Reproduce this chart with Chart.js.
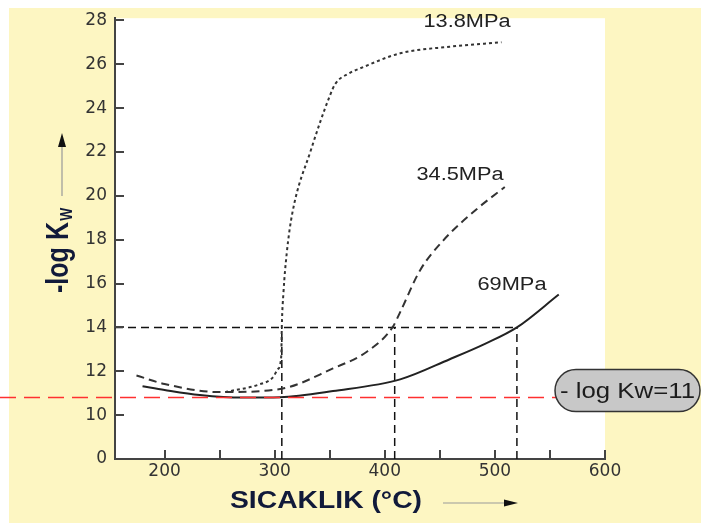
<!DOCTYPE html>
<html>
<head>
<meta charset="utf-8">
<title>-log Kw / Sıcaklık</title>
<script src="https://cdn.jsdelivr.net/npm/chart.js@4.4.1/dist/chart.umd.min.js"></script>
<style>
  html, body { margin: 0; padding: 0; background: #fdf6c2; overflow: hidden; }
  #wrap { width: 701px; height: 523px; }
  canvas { display: block; }
</style>
</head>
<body>
<div id="wrap"><canvas id="kwChart" width="701" height="523"></canvas></div>
<script>
// (sıcaklık °C, -log Kw)
const temps138 = [255, 286, 298, 303, 306, 306.5, 308, 311, 316, 333, 350, 355, 368, 377, 414, 459, 506];
const logKw138 = [11.05, 11.4, 11.7, 12.1, 12.7, 14.05, 15.6, 17.4, 19.2, 22.1, 24.55, 25.1, 25.6, 25.8, 26.5, 26.8, 27.0];

const temps345 = [174.5, 200, 250, 305, 353, 384, 407, 414, 432, 453, 486, 509];
const logKw345 = [11.81, 11.42, 11.05, 11.19, 12.13, 12.9, 14.0, 14.7, 16.6, 17.96, 19.5, 20.4];

const temps69 = [180, 200, 232, 271, 305, 353, 414, 459, 491, 520, 558];
const logKw69 = [11.32, 11.15, 10.92, 10.8, 10.82, 11.1, 11.63, 12.55, 13.25, 14.0, 15.5];

// Kılavuz çizgileri: -log Kw = 14 seviyesinin kesiştiği sıcaklıklar
const guideTemps = [306.5, 409, 520];
const guideLevel = 14;
const refLevel = 10.8; // kırmızı kesikli çizgi (- log Kw=11)

// Eksen işaretleri
const xTicks = [200, 250, 300, 350, 400, 450, 500, 550, 600];
const yTicks = [8, 10, 12, 14, 16, 18, 20, 22, 24, 26, 28]; // 8 -> "0" (kırık eksen)

const YELLOW = '#fdf6c2';
const AXIS = '#444';

const toPoints = (xs, ys) => xs.map((x, i) => ({ x: x, y: ys[i] }));

// Yazıyı verilen genişliğe yatayda esneterek çizer
function stretchText(ctx, text, x, y, font, width, align, color) {
    ctx.save();
    ctx.font = font;
    const w = ctx.measureText(text).width;
    ctx.translate(x, y);
    ctx.scale(width / w, 1);
    ctx.textAlign = align;
    ctx.textBaseline = 'middle';
    ctx.fillStyle = color;
    ctx.fillText(text, 0, 0);
    ctx.restore();
}

const backgroundPlugin = {
    id: 'background',
    beforeDraw(chart) {
        const { ctx, chartArea: a } = chart;
        ctx.save();
        ctx.fillStyle = '#fff';
        ctx.fillRect(0, 0, chart.width, chart.height);
        ctx.fillStyle = YELLOW;
        ctx.fillRect(9, 8, chart.width, chart.height);
        ctx.fillStyle = '#fff';
        ctx.fillRect(a.left, a.top, a.right - a.left, a.bottom - a.top);
        ctx.restore();
    }
};

const decorPlugin = {
    id: 'decor',
    afterDatasetsDraw(chart) {
        const { ctx, chartArea: a, scales: { x, y } } = chart;
        ctx.save();

        // içe doğru tik işaretleri
        ctx.strokeStyle = AXIS;
        ctx.lineWidth = 2;
        ctx.beginPath();
        xTicks.forEach(t => {
            const px = Math.round(x.getPixelForValue(t));
            ctx.moveTo(px, a.bottom);
            ctx.lineTo(px, a.bottom - 9);
        });
        yTicks.slice(1).forEach(t => {
            const py = Math.round(y.getPixelForValue(t));
            ctx.moveTo(a.left, py);
            ctx.lineTo(a.left + 9, py);
        });
        ctx.stroke();

        // kırmızı referans çizgisi
        const ry = y.getPixelForValue(refLevel);
        ctx.strokeStyle = '#ff3030';
        ctx.lineWidth = 1.5;
        ctx.setLineDash([16, 8]);
        ctx.beginPath();
        ctx.moveTo(0, ry);
        ctx.lineTo(560, ry);
        ctx.stroke();
        ctx.setLineDash([]);

        // etiket kutusu
        const pl = 555, pr = 700, pt = ry - 28, pb = ry + 14, r = 21;
        ctx.beginPath();
        ctx.moveTo(pl + r, pt);
        ctx.lineTo(pr - r, pt);
        ctx.arc(pr - r, pt + r, r, -Math.PI / 2, Math.PI / 2);
        ctx.lineTo(pl + r, pb);
        ctx.arc(pl + r, pt + r, r, Math.PI / 2, Math.PI * 1.5);
        ctx.closePath();
        ctx.fillStyle = '#c8c8c8';
        ctx.fill();
        ctx.strokeStyle = '#333';
        ctx.lineWidth = 1.5;
        ctx.stroke();
        stretchText(ctx, '- log Kw=11', 560, pt + r + 1, '22px "Liberation Sans", Arial, sans-serif', 135, 'left', '#1c1c1c');

        // seri etiketleri
        const lf = '18px "Liberation Sans", Arial, sans-serif';
        stretchText(ctx, '13.8MPa', 467, 22, lf, 87, 'center', '#222');
        stretchText(ctx, '34.5MPa', 460, 175, lf, 87, 'center', '#222');
        stretchText(ctx, '69MPa', 512, 285, lf, 69, 'center', '#222');

        // x ekseni başlığı ve oku
        const titleColor = '#111a3a';
        const bf = 'bold 23px "Liberation Sans", Arial, sans-serif';
        stretchText(ctx, 'SICAKLIK (°C)', 326, 502, bf, 192, 'center', titleColor);
        ctx.strokeStyle = '#999';
        ctx.lineWidth = 1.2;
        ctx.beginPath();
        ctx.moveTo(443, 503);
        ctx.lineTo(506, 503);
        ctx.moveTo(62, 196);
        ctx.lineTo(62, 146);
        ctx.stroke();
        ctx.fillStyle = '#111';
        ctx.beginPath();
        ctx.moveTo(518, 503);
        ctx.lineTo(504, 499.5);
        ctx.lineTo(504, 506.5);
        ctx.closePath();
        ctx.moveTo(62, 133);
        ctx.lineTo(58, 147);
        ctx.lineTo(66, 147);
        ctx.closePath();
        ctx.fill();

        // y ekseni başlığı (-log Kw), döndürülmüş
        ctx.save();
        ctx.translate(68, 257.5);
        ctx.rotate(-Math.PI / 2);
        ctx.font = 'bold 22px "Liberation Sans", Arial, sans-serif';
        const main = '-log K';
        const mw = ctx.measureText(main).width;
        const sa = 71 / mw;
        ctx.scale(sa, 1.4);
        ctx.fillStyle = titleColor;
        ctx.textAlign = 'center';
        ctx.textBaseline = 'alphabetic';
        ctx.fillText(main, 0, 0);
        ctx.font = 'bold 12px "Liberation Sans", Arial, sans-serif';
        ctx.textAlign = 'left';
        ctx.fillText('W', mw / 2 + 1, 3);
        ctx.restore();

        ctx.restore();
    }
};

const curveBase = {
    showLine: true,
    pointRadius: 0,
    borderWidth: 2,
    fill: false,
    cubicInterpolationMode: 'monotone'
};
const guideBase = {
    showLine: true,
    pointRadius: 0,
    borderWidth: 1.5,
    borderColor: '#111',
    borderDash: [8, 5],
    fill: false
};

const datasets = [
    Object.assign({ label: '13.8MPa', data: toPoints(temps138, logKw138), borderColor: '#333', borderDash: [3, 3] }, curveBase),
    Object.assign({ label: '34.5MPa', data: toPoints(temps345, logKw345), borderColor: '#333', borderDash: [8, 5] }, curveBase),
    Object.assign({ label: '69MPa', data: toPoints(temps69, logKw69), borderColor: '#222' }, curveBase),
    Object.assign({ label: 'guide-h', data: [{ x: 155, y: guideLevel }, { x: guideTemps[guideTemps.length - 1], y: guideLevel }] }, guideBase)
];
guideTemps.forEach(t => {
    datasets.push(Object.assign({ label: 'guide-' + t, data: [{ x: t, y: 8 }, { x: t, y: guideLevel }] }, guideBase));
});

const ctx = document.getElementById('kwChart').getContext('2d');
new Chart(ctx, {
    type: 'scatter',
    data: { datasets: datasets },
    options: {
        responsive: false,
        animation: false,
        layout: { padding: { left: 0, top: 11, right: 96, bottom: 0 } },
        plugins: {
            legend: { display: false },
            tooltip: { enabled: false }
        },
        scales: {
            x: {
                type: 'linear',
                min: 155,
                max: 600,
                afterFit: s => { s.height = 64; },
                afterBuildTicks: s => { s.ticks = xTicks.map(v => ({ value: v })); },
                grid: { display: false, drawTicks: false },
                border: { color: AXIS, width: 2 },
                ticks: {
                    padding: 2,
                    color: '#333',
                    font: { family: 'DejaVu Sans', size: 17 },
                    maxRotation: 0,
                    autoSkip: false,
                    callback: v => (v % 100 === 0 ? String(v) : '')
                }
            },
            y: {
                type: 'linear',
                min: 8,
                max: 28.1,
                afterFit: s => { s.width = 115; },
                afterBuildTicks: s => { s.ticks = yTicks.map(v => ({ value: v })); },
                grid: { display: false, drawTicks: false },
                border: { color: AXIS, width: 2 },
                ticks: {
                    padding: 8,
                    color: '#333',
                    font: { family: 'DejaVu Sans', size: 17 },
                    autoSkip: false,
                    callback: v => (v === 8 ? '0' : String(v))
                }
            }
        }
    },
    plugins: [backgroundPlugin, decorPlugin]
});
</script>
</body>
</html>
